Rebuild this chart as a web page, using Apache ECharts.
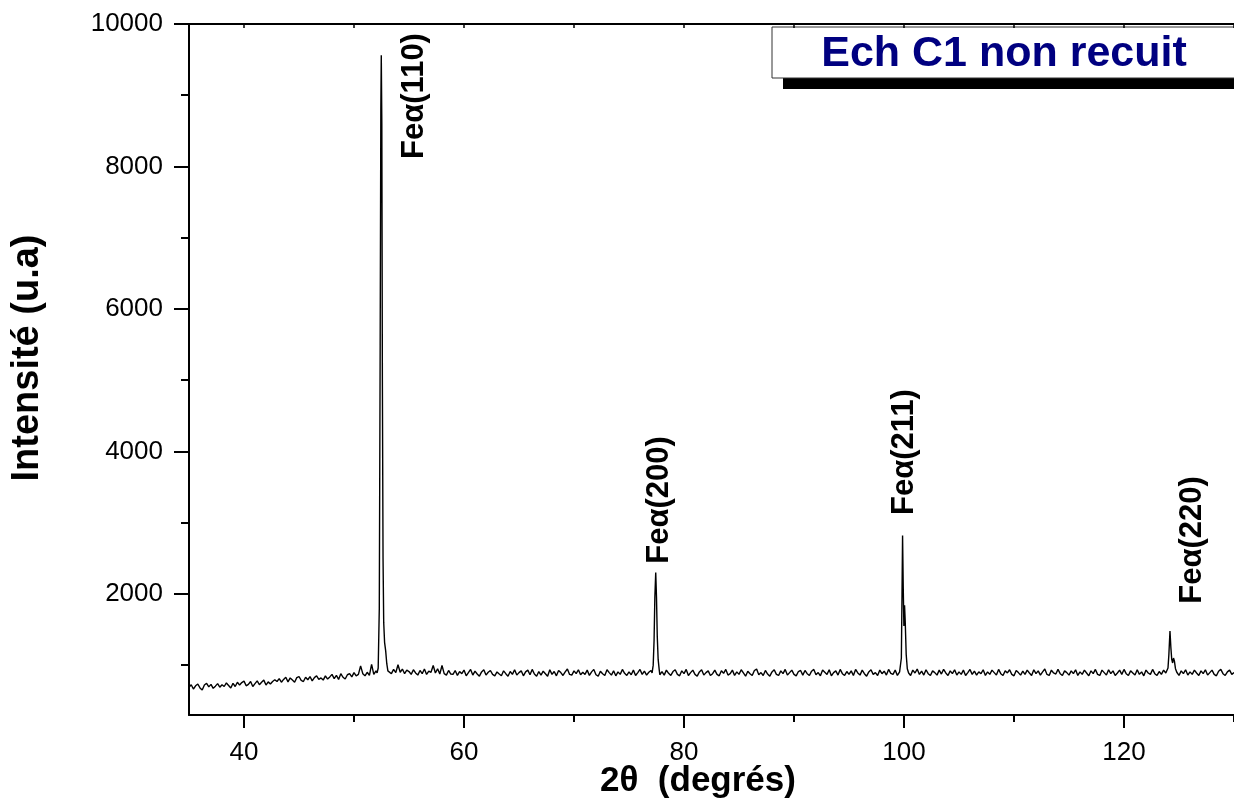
<!DOCTYPE html>
<html>
<head>
<meta charset="utf-8">
<script src="https://cdn.jsdelivr.net/npm/echarts@6/dist/echarts.min.js"></script>
<style>
html,body{margin:0;padding:0;background:#fff;}
#chart{width:1234px;height:803px;}
</style>
</head>
<body>
<div id="chart"></div>
<script>
// ---- Data ----
const twoThetaStart = 35.0;
const twoThetaStep = 0.2;
// baseline intensity, one value every 0.2 degree from 35.0 to 130.0
const baselineIntensity = [
  690,725,665,710,735,680,650,720,745,695,730,675,705,740,690,725,700,750,715,680,
  745,700,760,720,755,775,710,730,770,700,740,780,725,760,790,720,765,735,770,795,
  770,810,760,800,830,765,820,790,760,825,840,785,770,830,795,840,780,825,850,800,
  820,790,850,805,835,870,810,855,800,880,830,805,865,880,835,895,850,870,990,880,
  850,900,855,1010,870,920,900,900,900,900,900,930,880,940,895,1005,900,945,880,930,
  910,870,935,890,860,925,880,945,870,915,900,995,890,950,875,995,880,860,925,875,
  870,925,855,910,880,930,850,895,940,860,915,875,845,905,935,860,900,925,870,850,
  905,875,850,920,880,845,910,870,935,860,895,920,850,905,930,865,940,875,845,910,
  860,915,880,845,935,870,910,850,925,895,855,905,945,870,860,920,880,935,865,900,
  870,930,855,905,940,865,845,915,880,855,935,895,860,920,850,905,870,940,885,855,
  905,865,930,855,895,940,870,915,860,900,925,900,900,900,865,910,860,930,885,855,
  910,935,870,850,920,880,940,855,895,930,870,845,905,935,860,895,920,855,880,930,
  870,850,920,885,940,860,880,930,855,905,870,935,890,845,915,880,855,925,945,865,
  895,855,925,875,845,905,935,870,855,920,880,940,860,895,930,870,850,910,925,860,
  925,880,855,915,940,865,895,850,930,900,870,935,850,895,920,860,940,880,855,910,
  870,920,855,940,890,860,930,880,845,905,935,870,895,855,930,880,915,860,940,885,
  870,930,855,905,900,900,900,900,855,930,890,945,870,915,860,935,880,855,920,895,
  860,930,875,940,890,855,920,880,935,860,905,870,930,855,895,940,870,915,860,905,
  880,935,855,905,870,930,895,860,940,880,855,920,890,935,870,850,925,895,860,915,
  870,930,890,855,935,880,920,860,905,945,870,855,930,890,875,940,880,855,920,895,
  860,920,880,935,855,905,870,930,890,850,920,880,940,870,855,930,895,860,935,880,
  920,855,890,930,870,940,880,855,920,890,860,935,870,905,850,930,890,870,940,880,
  855,910,870,930,890,900,900,900,900,900,855,920,880,935,860,905,870,930,890,855,
  920,880,935,860,895,930,870,850,915,940,880,855,905,930,870,895
];
// diffraction peaks: [2theta, intensity]
const peak110 = [[52.1,890],[52.2,960],[52.3,1800],[52.38,5500],[52.44,8800],[52.48,9560],[52.53,8600],[52.58,5000],[52.64,2500],[52.7,1600],[52.78,1320],[52.88,1200],[52.98,1020],[53.08,920]];
const peak200 = [[77.1,890],[77.2,1000],[77.28,1350],[77.35,1950],[77.43,2300],[77.5,1950],[77.57,1400],[77.65,1080],[77.75,930]];
const peak211 = [[99.7,900],[99.76,1100],[99.82,2000],[99.87,2820],[99.93,2100],[99.99,1550],[100.05,1840],[100.11,1620],[100.2,1150],[100.3,950],[100.42,890]];
const peak220 = [[123.9,900],[124.0,960],[124.08,1150],[124.18,1478],[124.26,1250],[124.34,1080],[124.42,1030],[124.5,1100],[124.58,1060],[124.68,950],[124.8,900],[124.92,880]];
const peakLabels = ['Feα(110)','Feα(200)','Feα(211)','Feα(220)'];
const legendText = 'Ech C1 non recuit';
const xTitle = '2θ  (degrés)';
const yTitle = 'Intensité (u.a)';
const xMajorTicks = [40,60,80,100,120];
const xMinorTicks = [50,70,90,110,130];
const xTopTicks = [40,50,60,70,80,90,100,110,120,130];
const yMajorTicks = [2000,4000,6000,8000,10000];
const yMinorTicks = [1000,3000,5000,7000,9000];

// ---- Build the series ----
const peaks = [peak110, peak200, peak211, peak220];
const windows = peaks.map(p => [p[0][0] - 0.05, p[p.length-1][0] + 0.05]);
let pts = [];
baselineIntensity.forEach((v, i) => {
  const x = +(twoThetaStart + i * twoThetaStep).toFixed(2);
  if (!windows.some(w => x > w[0] && x < w[1])) pts.push([x, v]);
});
peaks.forEach(p => { pts = pts.concat(p); });
pts.sort((a, b) => a[0] - b[0]);

const FONT = '"Liberation Sans", Arial, Helvetica, sans-serif';
const axisCommon = { color: '#000', width: 2 };
const plain = v => String(v);

const chart = echarts.init(document.getElementById('chart'));
chart.setOption({
  animation: false,
  backgroundColor: '#fff',
  grid: { left: 189, top: 24, width: 1046, height: 691, containLabel: false },
  xAxis: [
    { type: 'value', min: 35, max: 130, position: 'bottom',
      axisLine: { show: true, onZero: false, lineStyle: axisCommon },
      axisTick: { show: true, customValues: xMajorTicks, length: 13, lineStyle: axisCommon },
      axisLabel: { customValues: xMajorTicks, formatter: plain, fontSize: 26, color: '#000', fontFamily: FONT, margin: 25 },
      splitLine: { show: false } },
    { type: 'value', min: 35, max: 130, position: 'bottom',
      axisLine: { show: false },
      axisTick: { show: true, customValues: xMinorTicks, length: 7, lineStyle: axisCommon },
      axisLabel: { show: false }, splitLine: { show: false } },
    { type: 'value', min: 35, max: 130, position: 'top',
      axisLine: { show: true, onZero: false, lineStyle: axisCommon },
      axisTick: { show: true, inside: true, customValues: xTopTicks, length: 4, lineStyle: { color: '#000', width: 1.5 } },
      axisLabel: { show: false }, splitLine: { show: false } }
  ],
  yAxis: [
    { type: 'value', min: 300, max: 10000, position: 'left',
      axisLine: { show: true, onZero: false, lineStyle: axisCommon },
      axisTick: { show: true, customValues: yMajorTicks, length: 15, lineStyle: axisCommon },
      axisLabel: { customValues: yMajorTicks, formatter: plain, fontSize: 26, color: '#000', fontFamily: FONT, margin: 26 },
      splitLine: { show: false } },
    { type: 'value', min: 300, max: 10000, position: 'left',
      axisLine: { show: false },
      axisTick: { show: true, customValues: yMinorTicks, length: 8, lineStyle: axisCommon },
      axisLabel: { show: false }, splitLine: { show: false } }
  ],
  series: [{
    type: 'line', xAxisIndex: 0, yAxisIndex: 0, data: pts,
    showSymbol: false, symbol: 'none', clip: true,
    lineStyle: { color: '#000', width: 1.4 }
  }],
  graphic: [
    { type: 'text', x: 698, y: 781, style: { text: xTitle, font: 'bold 35px ' + FONT, fill: '#000', textAlign: 'center', textVerticalAlign: 'middle' } },
    { type: 'text', x: 28, y: 358, rotation: Math.PI / 2, style: { text: yTitle, font: 'bold 38px ' + FONT, fill: '#000', textAlign: 'center', textVerticalAlign: 'middle' } },
    { type: 'rect', shape: { x: 783, y: 38, width: 470, height: 51 }, style: { fill: '#000' } },
    { type: 'rect', shape: { x: 772, y: 27, width: 470, height: 51 }, style: { fill: '#fff', stroke: '#333', lineWidth: 1 } },
    { type: 'text', x: 1004, y: 54, style: { text: legendText, font: 'bold 43px ' + FONT, fill: '#000080', textAlign: 'center', textVerticalAlign: 'middle' } },
    { type: 'text', x: 414, y: 96, rotation: Math.PI / 2, style: { text: peakLabels[0], font: 'bold 31px ' + FONT, fill: '#000', textAlign: 'center', textVerticalAlign: 'middle' } },
    { type: 'text', x: 659, y: 500, rotation: Math.PI / 2, style: { text: peakLabels[1], font: 'bold 31px ' + FONT, fill: '#000', textAlign: 'center', textVerticalAlign: 'middle' } },
    { type: 'text', x: 904, y: 452, rotation: Math.PI / 2, style: { text: peakLabels[2], font: 'bold 31px ' + FONT, fill: '#000', textAlign: 'center', textVerticalAlign: 'middle' } },
    { type: 'text', x: 1192, y: 540, rotation: Math.PI / 2, style: { text: peakLabels[3], font: 'bold 31px ' + FONT, fill: '#000', textAlign: 'center', textVerticalAlign: 'middle' } }
  ]
});
</script>
</body>
</html>
